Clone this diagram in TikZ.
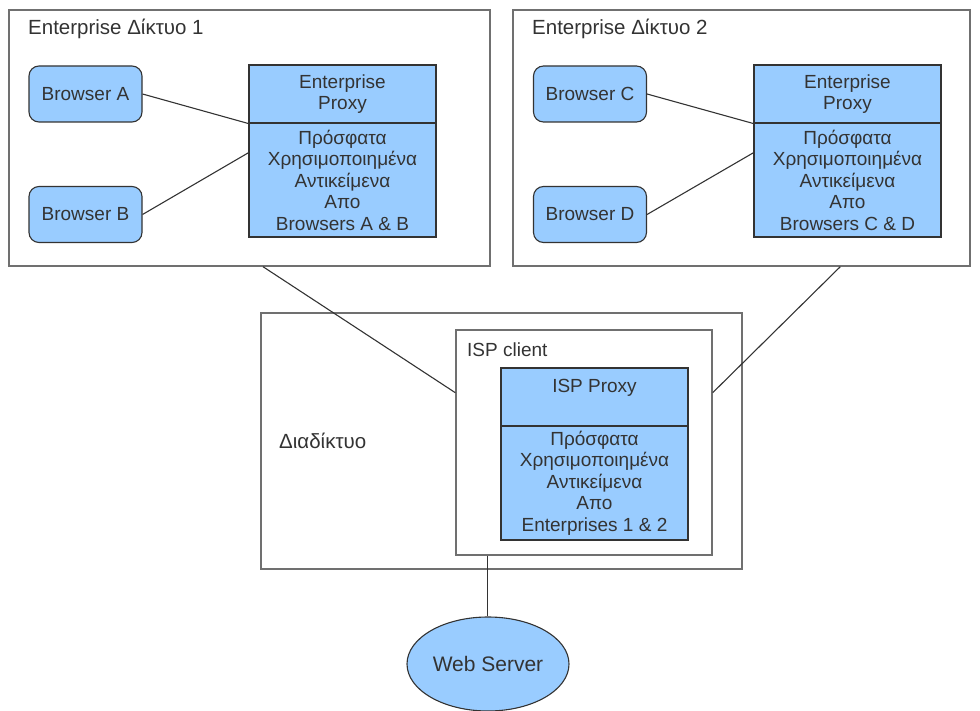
\documentclass[tikz,border=0pt]{standalone}
\usepackage{fontspec}
\setmainfont{Liberation Sans}
\usetikzlibrary{calc,shapes.geometric}
\definecolor{boxblue}{HTML}{99CCFF}
\definecolor{edgegray}{HTML}{333333}
\definecolor{framegray}{HTML}{707070}
\definecolor{inkgray}{HTML}{333333}
\begin{document}
\begin{tikzpicture}[x=1pt,y=-1pt,
  every node/.style={font=\fontsize{19}{21.5}\selectfont, text=inkgray, inner sep=0pt},
  frame/.style={draw=framegray, line width=1.4pt, rectangle},
  browser/.style={draw=edgegray, fill=boxblue, line width=1.1pt, rounded corners=10pt,
    minimum width=113pt, minimum height=56pt},
  cell/.style={draw=edgegray, fill=boxblue, line width=1.1pt, align=center,
    minimum width=187pt},
  title/.style={anchor=west, font=\fontsize{20.5}{24}\selectfont},
  link/.style={draw=black!80, line width=1.1pt}
]
\useasboundingbox (0,0) rectangle (980,711);

% Enterprise network 1
\node[frame, minimum width=481pt, minimum height=256pt] (ent1) at (249.5,138) {};
\node[title] (t1) at (28,29) {Enterprise Δίκτυο 1};
\node[browser] (bA) at (85.5,94) {Browser A};
\node[browser] (bB) at (85.5,214.5) {Browser B};
\node[cell, minimum height=58pt] (p1top) at (342.5,94) {Enterprise\\Proxy};
\node[cell, minimum height=114pt] (p1bot) at (342.5,180)
  {Πρόσφατα\\Χρησιμοποιημένα\\Αντικείμενα\\Απο\\Browsers A \& B};

% Enterprise network 2
\node[frame, minimum width=457pt, minimum height=256pt] (ent2) at (741.5,138) {};
\node[title] (t2) at (532,29) {Enterprise Δίκτυο 2};
\node[browser] (bC) at (590,94) {Browser C};
\node[browser] (bD) at (590,214.5) {Browser D};
\node[cell, minimum height=58pt] (p2top) at (847.5,94) {Enterprise\\Proxy};
\node[cell, minimum height=114pt] (p2bot) at (847.5,180)
  {Πρόσφατα\\Χρησιμοποιημένα\\Αντικείμενα\\Απο\\Browsers C \& D};

% Internet with the ISP client
\node[frame, minimum width=481pt, minimum height=256pt] (net) at (501.5,441) {};
\node[title] (tnet) at (279,441) {Διαδίκτυο};
\node[frame, minimum width=256pt, minimum height=225pt] (isp) at (584,442.5) {};
\node[anchor=west] (tisp) at (467,350) {ISP client};
\node[cell, minimum height=58pt] (isptop) at (594.5,397) {ISP Proxy\\~};
\node[cell, minimum height=114pt] (ispbot) at (594.5,483)
  {Πρόσφατα\\Χρησιμοποιημένα\\Αντικείμενα\\Απο\\Enterprises 1 \& 2};

% Web server
\node[ellipse, draw=edgegray, fill=boxblue, line width=1.1pt,
  minimum width=162pt, minimum height=94pt, font=\fontsize{21}{24}\selectfont]
  (web) at (488,664) {Web Server};

% Browser to proxy links
\draw[link] (bA.east) -- (p1top.south west);
\draw[link] (bB.east) -- ($(p1bot.north west)!0.263!(p1bot.south west)$);
\draw[link] (bC.east) -- (p2top.south west);
\draw[link] (bD.east) -- ($(p2bot.north west)!0.263!(p2bot.south west)$);

% Enterprise networks to ISP client
\draw[link] ($(ent1.south west)!0.528!(ent1.south east)$) -- ($(isp.north west)!0.28!(isp.south west)$);
\draw[link] ($(ent2.south west)!0.7155!(ent2.south east)$) -- ($(isp.north east)!0.28!(isp.south east)$);

% ISP client to web server
\coordinate (ispout) at ($(isp.south west)!0.125!(isp.south east)$);
\draw[link] (ispout) -- (ispout |- web.north);
\end{tikzpicture}
\end{document}
